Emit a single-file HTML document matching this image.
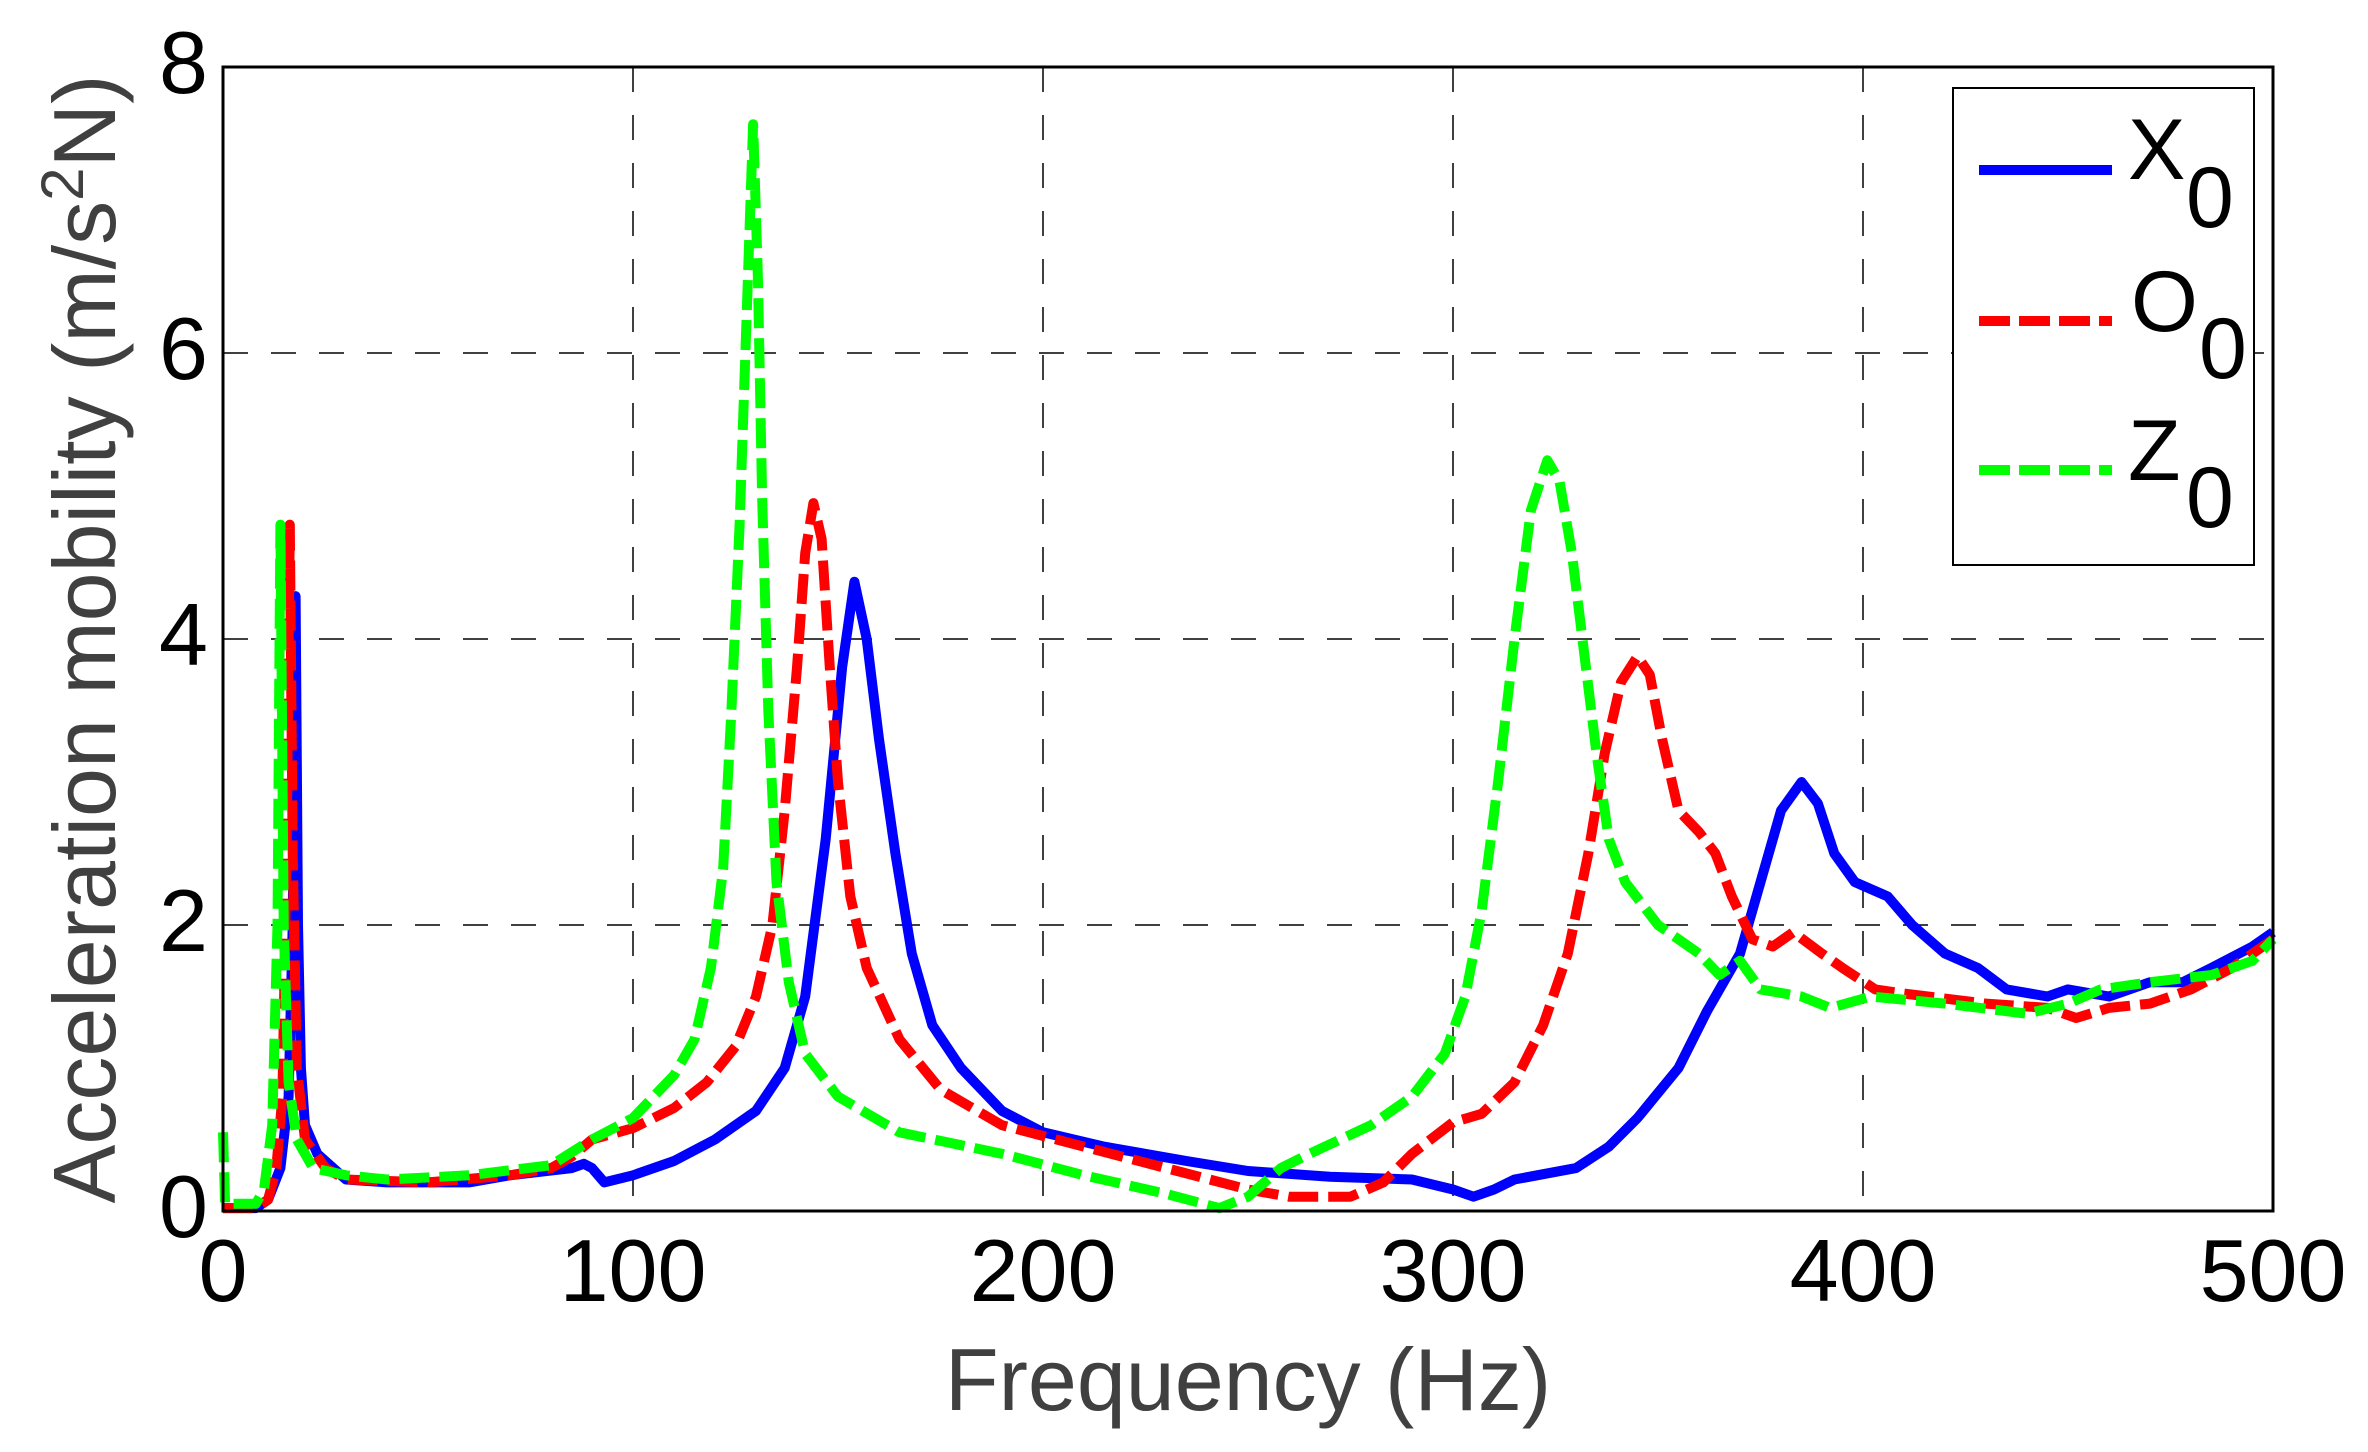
<!DOCTYPE html>
<html><head><meta charset="utf-8"><style>
html,body{margin:0;padding:0;background:#fff;}
svg{display:block;}
text{font-family:"Liberation Sans",Arial,sans-serif;}
</style></head><body>
<svg id="s" width="2368" height="1452" viewBox="0 0 2368 1452" xmlns="http://www.w3.org/2000/svg">
<rect width="2368" height="1452" fill="#fff"/>
<g stroke="#000" stroke-width="1.5" stroke-dasharray="25,23" fill="none">
<line x1="633" y1="67" x2="633" y2="1211"/>
<line x1="1043" y1="67" x2="1043" y2="1211"/>
<line x1="1453" y1="67" x2="1453" y2="1211"/>
<line x1="1863" y1="67" x2="1863" y2="1211"/>
<line x1="223" y1="925" x2="2273" y2="925"/>
<line x1="223" y1="639" x2="2273" y2="639"/>
<line x1="223" y1="353" x2="2273" y2="353"/>
</g>
<g id="curves" fill="none" stroke-linejoin="round"></g>
<rect x="223" y="67" width="2050" height="1144" fill="none" stroke="#000" stroke-width="3"/>
<g font-size="88" fill="#000" text-anchor="end">
<text x="208" y="1237">0</text>
<text x="208" y="951">2</text>
<text x="208" y="665">4</text>
<text x="208" y="379">6</text>
<text x="208" y="93">8</text>
</g>
<g font-size="88" fill="#000" text-anchor="middle">
<text x="223" y="1301">0</text>
<text x="633" y="1301">100</text>
<text x="1043" y="1301">200</text>
<text x="1453" y="1301">300</text>
<text x="1863" y="1301">400</text>
<text x="2273" y="1301">500</text>
</g>
<text x="1248" y="1410" font-size="88" fill="#404040" text-anchor="middle">Frequency (Hz)</text>
<text transform="translate(115,639) rotate(-90)" font-size="88" fill="#404040" text-anchor="middle">Acceleration mobility (m/s<tspan dy="-32" font-size="60">2</tspan><tspan dy="32">N)</tspan></text>
<rect x="1953" y="88" width="301" height="477" fill="#fff" stroke="#000" stroke-width="2"/>
<line x1="1979" y1="170" x2="2112" y2="170" stroke="#0000ff" stroke-width="10"/>
<line x1="1979" y1="321" x2="2112" y2="321" stroke="#ff0000" stroke-width="10" stroke-dasharray="31,9"/>
<line x1="1979" y1="470" x2="2112" y2="470" stroke="#00ff00" stroke-width="10" stroke-dasharray="31,9"/>
<g font-size="86" fill="#000">
<text x="2128" y="179">X</text><text x="2186" y="227">0</text>
<text x="2131" y="331">O</text><text x="2199" y="378">0</text>
<text x="2128" y="480">Z</text><text x="2186" y="527">0</text>
</g>
</svg>
<script>
var X=[[0,0.02],[8,0.02],[11,0.08],[14,0.3],[16,0.8],[17,2],[17.7,4.3],[18.3,2],[19,1],[20,0.6],[23,0.4],[30,0.22],[40,0.2],[60,0.2],[70,0.25],[85,0.3],[88,0.33],[90,0.3],[93,0.2],[100,0.25],[110,0.35],[120,0.5],[130,0.7],[137,1.0],[142,1.5],[147,2.6],[151,3.8],[154,4.4],[157,4.0],[160,3.3],[164,2.5],[168,1.8],[173,1.3],[180,1.0],[190,0.7],[200,0.55],[215,0.45],[235,0.35],[250,0.28],[270,0.24],[290,0.22],[300,0.15],[305,0.1],[310,0.15],[315,0.22],[330,0.3],[338,0.45],[345,0.65],[355,1.0],[362,1.4],[370,1.8],[375,2.3],[380,2.8],[385,3.0],[389,2.85],[393,2.5],[398,2.3],[406,2.2],[412,2.0],[420,1.8],[428,1.7],[435,1.55],[445,1.5],[450,1.55],[460,1.5],[470,1.6],[478,1.6],[485,1.7],[495,1.85],[500,1.95]];
var O=[[0,0.02],[8,0.02],[11,0.08],[13,0.3],[14.5,0.8],[15.5,2.5],[16.3,4.8],[17,2.5],[18,1.0],[20,0.5],[25,0.3],[30,0.22],[50,0.2],[70,0.25],[80,0.3],[85,0.38],[90,0.5],[100,0.58],[110,0.72],[118,0.9],[125,1.15],[130,1.5],[134,2.0],[137,2.8],[140,3.8],[142,4.6],[144,4.95],[146,4.7],[148,3.8],[150,3.0],[153,2.2],[157,1.7],[165,1.2],[175,0.85],[190,0.6],[210,0.45],[230,0.3],[250,0.15],[260,0.1],[275,0.1],[283,0.2],[290,0.4],[300,0.62],[307,0.68],[315,0.9],[322,1.3],[328,1.8],[333,2.5],[337,3.2],[341,3.7],[345,3.88],[348,3.75],[351,3.3],[355,2.8],[360,2.65],[364,2.5],[368,2.2],[373,1.9],[378,1.85],[383,1.95],[390,1.8],[395,1.7],[403,1.55],[410,1.52],[430,1.45],[445,1.42],[452,1.35],[460,1.42],[470,1.45],[480,1.55],[490,1.7],[500,1.9]];
var Z=[[0,0.55],[0.5,0.05],[8,0.05],[10,0.15],[12,0.6],[13.3,2],[14,4.8],[14.8,2],[16,0.9],[18,0.5],[22,0.3],[30,0.25],[40,0.22],[60,0.25],[80,0.32],[90,0.5],[100,0.65],[110,0.95],[115,1.2],[119,1.7],[122,2.4],[124,3.5],[126,4.8],[128,6.5],[129.3,7.6],[130.5,6.5],[131.5,5.0],[133,3.5],[135,2.3],[138,1.6],[142,1.1],[150,0.8],[165,0.55],[190,0.4],[210,0.25],[230,0.12],[243,0.02],[250,0.1],[258,0.3],[265,0.4],[280,0.6],[290,0.8],[298,1.1],[303,1.5],[307,2.1],[311,3.0],[315,4.0],[319,4.9],[323,5.25],[326,5.1],[329,4.6],[332,3.9],[335,3.2],[338,2.6],[342,2.3],[350,2.0],[360,1.8],[365,1.65],[370,1.75],[375,1.55],[385,1.5],[392,1.42],[402,1.5],[420,1.45],[440,1.38],[450,1.45],[458,1.55],[470,1.6],[485,1.65],[495,1.75],[500,1.9]];
function path(d){return d.map(function(p,i){return (i?'L':'M')+(223+p[0]*4.1).toFixed(1)+','+(1211-p[1]*143).toFixed(1);}).join('');}
var g=document.getElementById('curves'),ns='http://www.w3.org/2000/svg';
[[X,'#0000ff',null],[O,'#ff0000','30,10'],[Z,'#00ff00','30,10']].forEach(function(c){
var p=document.createElementNS(ns,'path');p.setAttribute('d',path(c[0]));p.setAttribute('stroke',c[1]);p.setAttribute('stroke-width','10');
if(c[2])p.setAttribute('stroke-dasharray',c[2]);g.appendChild(p);});
</script>
</body></html>
